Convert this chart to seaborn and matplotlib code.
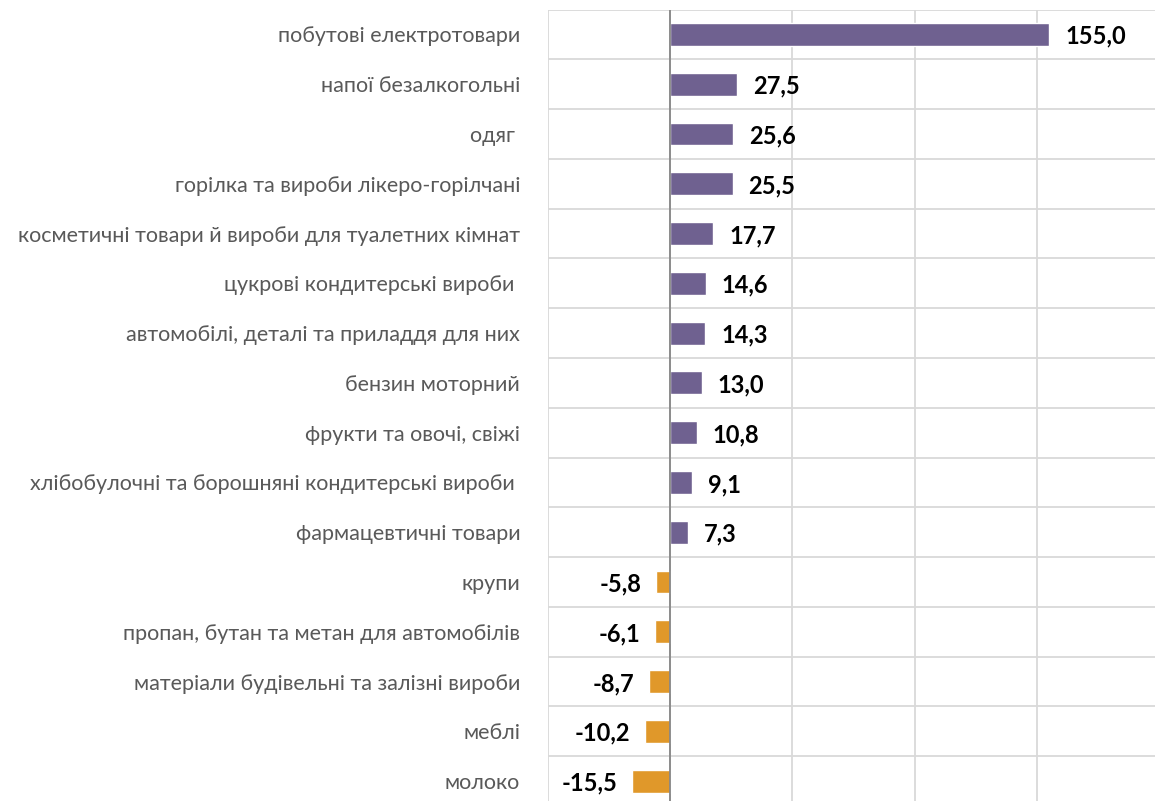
import matplotlib
matplotlib.use("Agg")
import matplotlib.pyplot as plt
import seaborn as sns

categories = [
    "побутові електротовари",
    "напої безалкогольні",
    "одяг ",
    "горілка та вироби лікеро-горілчані",
    "косметичні товари й вироби для туалетних кімнат",
    "цукрові кондитерські вироби ",
    "автомобілі, деталі та приладдя для них",
    "бензин моторний",
    "фрукти та овочі, свіжі",
    "хлібобулочні та борошняні кондитерські вироби ",
    "фармацевтичні товари",
    "крупи",
    "пропан, бутан та метан для автомобілів",
    "матеріали будівельні та залізні вироби",
    "меблі",
    "молоко",
]
values = [155.0, 27.5, 25.6, 25.5, 17.7, 14.6, 14.3, 13.0, 10.8, 9.1, 7.3,
          -5.8, -6.1, -8.7, -10.2, -15.5]
sign = ["pos" if v >= 0 else "neg" for v in values]

sns.set_style("white")
plt.rcParams["font.family"] = ["Lato", "DejaVu Sans"]

fig = plt.figure(figsize=(11.55, 8.01), dpi=100)
W, H = 1155, 801
ax = fig.add_axes([548 / W, 1 - 806 / H, (1159 - 548) / W, (806 - 9.5) / H])

sns.barplot(x=values, y=categories, hue=sign, palette={"pos": "#6f6190", "neg": "#e0982a"},
            dodge=False, legend=False, width=0.46, ax=ax, saturation=1)

ax.set_xlim(-50, 200)
ax.set_ylim(len(categories) - 0.5, -0.5)
ax.set_xticks([-50, 0, 50, 100, 150, 200])
ax.set_xticklabels([])
ax.set_yticks([i - 0.5 for i in range(len(categories) + 1)], minor=False)
ax.set_yticklabels([])
ax.set_yticks(range(len(categories)), minor=True)
ax.set_yticklabels(categories, minor=True, fontsize=15.5, color="#595959")
ax.tick_params(axis="both", which="both", length=0, pad=20)
ax.grid(True, which="major", color="#d9d9d9", linewidth=1.3)
ax.set_axisbelow(True)
ax.axvline(0, color="#868686", linewidth=1.3, zorder=1.5)
for s in ax.spines.values():
    s.set_visible(False)
ax.set_xlabel("")
ax.set_ylabel("")

for i, v in enumerate(values):
    txt = f"{v:.1f}".replace(".", ",")
    if v >= 0:
        ax.annotate(txt, (v, i), xytext=(16, -2), textcoords="offset pixels",
                    ha="left", va="center", fontsize=17, fontweight="bold", color="black")
    else:
        ax.annotate(txt, (v, i), xytext=(-15, -2), textcoords="offset pixels",
                    ha="right", va="center", fontsize=17, fontweight="bold", color="black")

fig.savefig("out.png", dpi=100)
